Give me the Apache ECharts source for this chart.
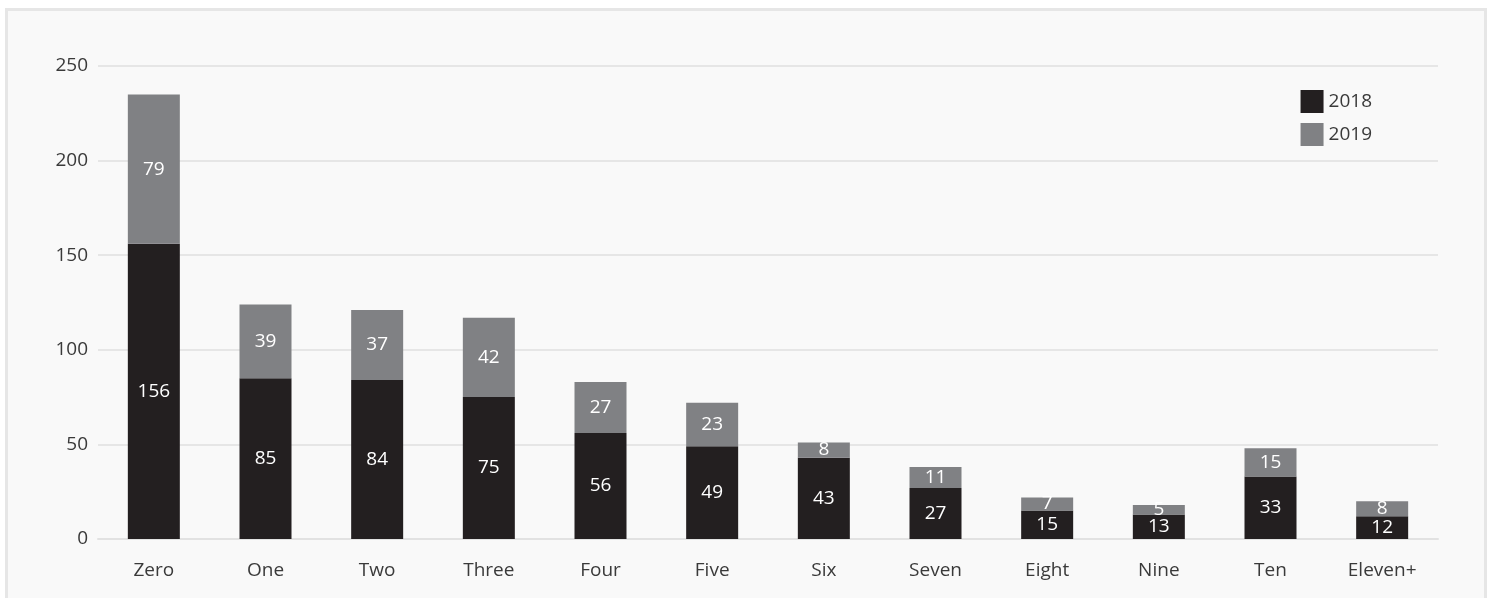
<!DOCTYPE html>
<html>
<head>
<meta charset="utf-8">
<script src="https://cdn.jsdelivr.net/npm/echarts@6/dist/echarts.min.js"></script>
<style>
html,body{margin:0;padding:0;background:#fff;}
#frame{position:absolute;left:5px;top:8px;width:1482px;height:600px;border:3px solid #e6e6e6;border-bottom:none;background:#f9f9f9;box-sizing:border-box;}
#chart{position:absolute;left:0;top:0;width:1496px;height:598px;}
</style>
</head>
<body>
<div id="frame"></div>
<div id="chart"></div>
<script>
const categories = ["Zero","One","Two","Three","Four","Five","Six","Seven","Eight","Nine","Ten","Eleven+"];
const series2018 = [156,85,84,75,56,49,43,27,15,13,33,12];
const series2019 = [79,39,37,42,27,23,8,11,7,5,15,8];
const yTicks = [0,50,100,150,200,250];

const chart = echarts.init(document.getElementById('chart'), null, {renderer:'canvas'});
const font = '"Open Sans", sans-serif';
const lbl = {show:true, position:'inside', color:'#ffffff', fontSize:19, fontFamily:font};
chart.setOption({
  backgroundColor:'transparent',
  animation:false,
  grid:{left:98, right:58, top:66, bottom:59, containLabel:false},
  legend:{
    orient:'vertical', right:119, top:85, itemWidth:23, itemHeight:23, itemGap:10,
    icon:'rect',
    textStyle:{color:'#3a3a3a', fontSize:19, fontFamily:font},
    data:['2018','2019']
  },
  xAxis:{
    type:'category', data:categories,
    axisLine:{show:true, lineStyle:{color:'#e2e2e2', width:2}},
    axisTick:{show:false},
    axisLabel:{color:'#3a3a3a', fontSize:19, fontFamily:font, margin:22}
  },
  yAxis:{
    type:'value', min:yTicks[0], max:yTicks[yTicks.length-1], interval:50,
    axisLine:{show:false}, axisTick:{show:false},
    axisLabel:{color:'#3a3a3a', fontSize:19, fontFamily:font, margin:10},
    splitLine:{lineStyle:{color:'#e6e6e6', width:2}}
  },
  series:[
    {name:'2018', type:'bar', stack:'a', data:series2018, barWidth:52, itemStyle:{color:'#231f20'}, label:lbl},
    {name:'2019', type:'bar', stack:'a', data:series2019, barWidth:52, itemStyle:{color:'#808184'}, label:lbl}
  ]
});
</script>
</body>
</html>
